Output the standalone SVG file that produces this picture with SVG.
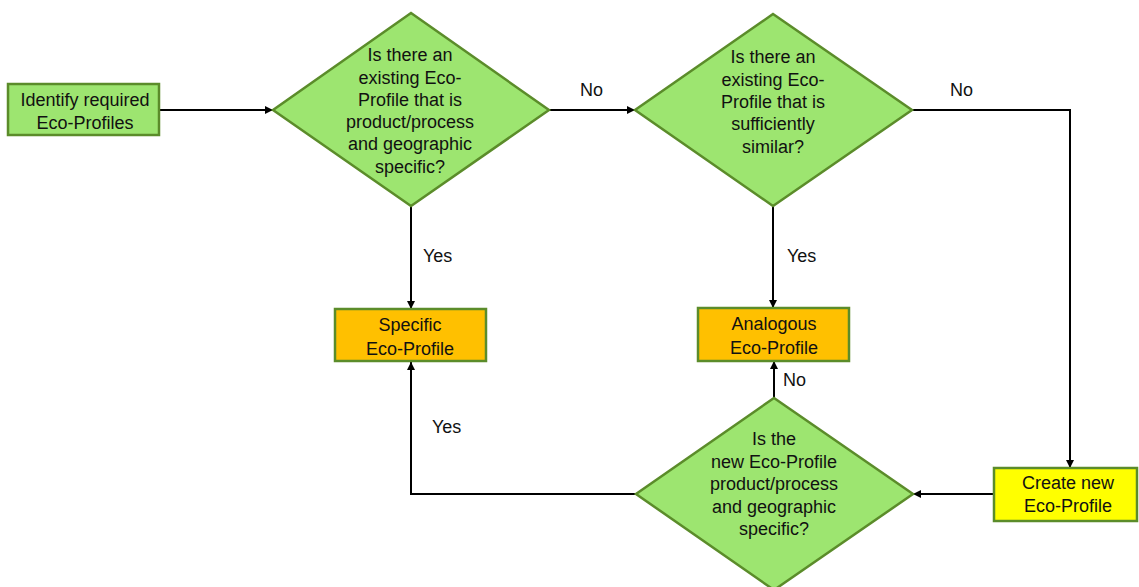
<svg xmlns="http://www.w3.org/2000/svg" width="1139" height="587" viewBox="0 0 1139 587">
<style>
.t{font-family:"Liberation Sans",Arial,sans-serif;font-size:18px;fill:#111;text-anchor:middle}
.l{font-family:"Liberation Sans",Arial,sans-serif;font-size:18px;fill:#111}
.g{fill:#9de570;stroke:#5b8c2a;stroke-width:2.5}
.o{fill:#ffc000;stroke:#5b8c2a;stroke-width:2.5}
.y{fill:#ffff00;stroke:#5b8c2a;stroke-width:2.5}
.c{fill:none;stroke:#000;stroke-width:2;marker-end:url(#a)}
</style>
<defs>
<marker id="a" viewBox="0 0 10 10" refX="10" refY="5" markerWidth="4" markerHeight="4" orient="auto" markerUnits="strokeWidth">
<path d="M0,0 L10,5 L0,10 z" fill="#000"/>
</marker>
</defs>
<rect width="1139" height="587" fill="#fff"/>
<g id="connectors">
<path class="c" d="M159,110 H273"/>
<path class="c" d="M549,110 H635"/>
<path class="c" d="M912,110 H1070 V468"/>
<path class="c" d="M411,205 V309"/>
<path class="c" d="M773,206 V308"/>
<path class="c" d="M994,494 H913"/>
<path class="c" d="M636,494 H411 V362"/>
<path class="c" d="M774,398 V361"/>
</g>
<g id="labels">
<text class="l" x="580" y="96">No</text>
<text class="l" x="950" y="96">No</text>
<text class="l" x="423" y="262">Yes</text>
<text class="l" x="787" y="262">Yes</text>
<text class="l" x="783" y="386">No</text>
<text class="l" x="432" y="433">Yes</text>
</g>
<g id="identify">
<rect class="g" x="8" y="84" width="151" height="51"/>
<text class="t" x="85" y="106">Identify required</text>
<text class="t" x="85" y="129">Eco-Profiles</text>
</g>
<g id="decision1">
<polygon class="g" points="411,13 549,110 411,206 273,110"/>
<text class="t" x="410" y="61">Is there an</text>
<text class="t" x="410" y="84">existing Eco-</text>
<text class="t" x="410" y="106">Profile that is</text>
<text class="t" x="410" y="128">product/process</text>
<text class="t" x="410" y="150">and geographic</text>
<text class="t" x="410" y="173">specific?</text>
</g>
<g id="decision2">
<polygon class="g" points="773,14 912,110 773,206 635,110"/>
<text class="t" x="773" y="63">Is there an</text>
<text class="t" x="773" y="86">existing Eco-</text>
<text class="t" x="773" y="108">Profile that is</text>
<text class="t" x="773" y="130">sufficiently</text>
<text class="t" x="773" y="153">similar?</text>
</g>
<g id="specific">
<rect class="o" x="335" y="309" width="151" height="52"/>
<text class="t" x="410" y="331">Specific</text>
<text class="t" x="410" y="355">Eco-Profile</text>
</g>
<g id="analogous">
<rect class="o" x="698" y="308" width="151" height="53"/>
<text class="t" x="774" y="330">Analogous</text>
<text class="t" x="774" y="354">Eco-Profile</text>
</g>
<g id="decision3">
<polygon class="g" points="774,398 913,494 774,590 636,494"/>
<text class="t" x="774" y="445">Is the</text>
<text class="t" x="774" y="468">new Eco-Profile</text>
<text class="t" x="774" y="490">product/process</text>
<text class="t" x="774" y="513">and geographic</text>
<text class="t" x="774" y="535">specific?</text>
</g>
<g id="create">
<rect class="y" x="994" y="468" width="143" height="53"/>
<text class="t" x="1068" y="489">Create new</text>
<text class="t" x="1068" y="512">Eco-Profile</text>
</g>
</svg>
